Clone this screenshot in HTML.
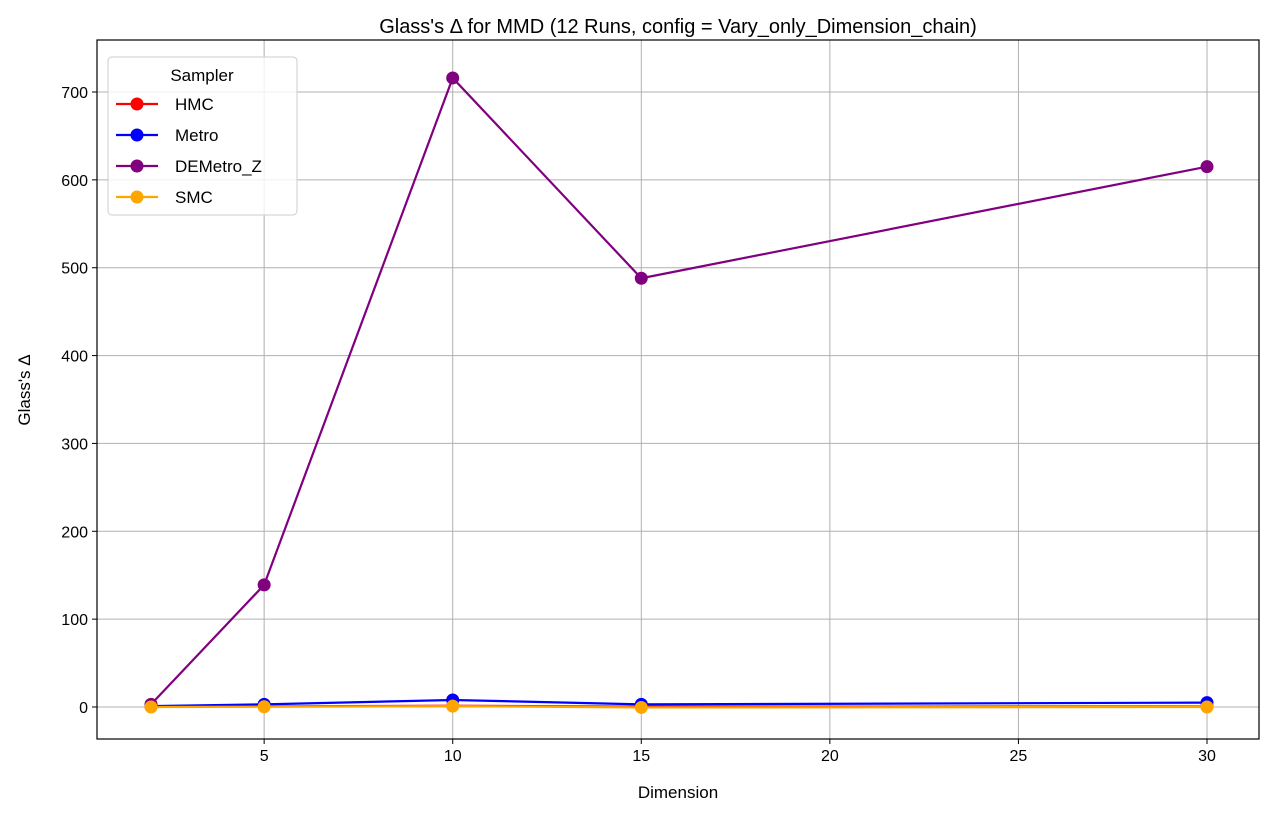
<!DOCTYPE html>
<html><head><meta charset="utf-8"><style>
body{margin:0;background:#fff;font-family:"Liberation Sans","DejaVu Sans",sans-serif;}
</style></head><body>
<svg id="chart" width="1275" height="817" xmlns="http://www.w3.org/2000/svg" font-family="Liberation Sans, DejaVu Sans, sans-serif"></svg>
<script>
const dims = [2, 5, 10, 15, 30];
const hmc = [0.5, 0.8, 1.5, 0.4, 0.6];
const metro = [1, 3, 8, 3, 5];
const demetro = [3, 139, 716, 488, 615];
const smc = [0, 0.3, 1, -0.5, 0];
const xTicks = [5, 10, 15, 20, 25, 30];
const yTicks = [0, 100, 200, 300, 400, 500, 600, 700];
const seriesNames = ["HMC", "Metro", "DEMetro_Z", "SMC"];
const seriesColors = ["red", "blue", "purple", "orange"];
const seriesData = [hmc, metro, demetro, smc];

const L=97,R=1259,T=40,B=739;
const X=v=>151+(v-2)*(1207-151)/28;
const Y=v=>707-v*(707-92)/700;
const svg=document.getElementById('chart');
const NS='http://www.w3.org/2000/svg';
function mk(tag,attrs,parent){const e=document.createElementNS(NS,tag);for(const k in attrs)e.setAttribute(k,attrs[k]);(parent||svg).appendChild(e);return e;}

xTicks.forEach(t=>{
  const g=mk('line',{x1:X(t),x2:X(t),y1:T,y2:B,stroke:'#b0b0b0','stroke-width':1});
  
  
  mk('line',{x1:X(t),x2:X(t),y1:B,y2:B+5,stroke:'#000'});
  const tx=mk('text',{x:X(t),y:B+22,'text-anchor':'middle','font-size':16});
  tx.textContent=t;
  
  
});
yTicks.forEach(t=>{
  const g=mk('line',{x1:L,x2:R,y1:Y(t),y2:Y(t),stroke:'#b0b0b0','stroke-width':1});
  
  
  mk('line',{x1:L-5,x2:L,y1:Y(t),y2:Y(t),stroke:'#000'});
  const tx=mk('text',{x:L-9,y:Y(t)+6,'text-anchor':'end','font-size':16});
  tx.textContent=t;
  
  
});

seriesData.forEach((d,i)=>{
  const pts=d.map((v,j)=>X(dims[j])+','+Y(v)).join(' ');
  const pl=mk('polyline',{points:pts,fill:'none',stroke:seriesColors[i],'stroke-width':2.2});
  
  
  d.forEach((v,j)=>{
    const c=mk('circle',{cx:X(dims[j]),cy:Y(v),r:6.5,fill:seriesColors[i]});
    
    
  });
});

const fr=mk('rect',{x:L,y:T,width:R-L,height:B-T,fill:'none',stroke:'#000','stroke-width':1.2});



const title=mk('text',{x:(L+R)/2,y:33,'text-anchor':'middle','font-size':20});
title.textContent="Glass's Δ for MMD (12 Runs, config = Vary_only_Dimension_chain)";


const xl=mk('text',{x:(L+R)/2,y:798,'text-anchor':'middle','font-size':17});
xl.textContent='Dimension';


const yl=mk('text',{x:0,y:0,'text-anchor':'middle','font-size':17,transform:'translate(30,390) rotate(-90)'});
yl.textContent="Glass's Δ";



const lg=mk('g',{});


mk('rect',{x:108,y:57,width:189,height:158,rx:4,fill:'#fff','fill-opacity':0.8,stroke:'#ccc'},lg);
const lt=mk('text',{x:202,y:81,'text-anchor':'middle','font-size':17},lg);
lt.textContent='Sampler';
seriesNames.forEach((n,i)=>{
  const y=104+i*31;
  const e=mk('g',{},lg);
  
  
  mk('line',{x1:116,x2:158,y1:y,y2:y,stroke:seriesColors[i],'stroke-width':2.2},e);
  mk('circle',{cx:137,cy:y,r:6.5,fill:seriesColors[i]},e);
  const t=mk('text',{x:175,y:y+6,'font-size':17},e);
  t.textContent=n;
});
</script>
</body></html>
